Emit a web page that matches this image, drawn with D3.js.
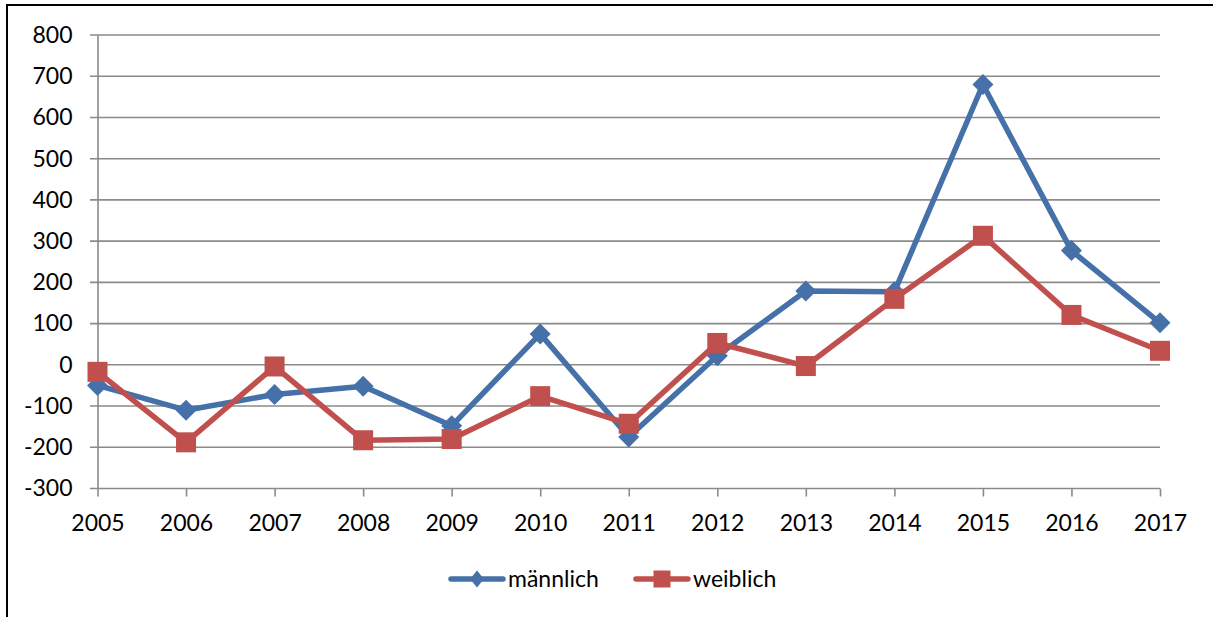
<!DOCTYPE html>
<html>
<head>
<meta charset="utf-8">
<script src="https://cdn.jsdelivr.net/npm/d3@7"></script>
<style>
  body { margin: 0; background: #fff; }
  text { font-family: Lato, "Open Sans", sans-serif; fill: #000; }
</style>
</head>
<body>
<svg id="chart" width="1213" height="617"></svg>
<script>
var years = [2005, 2006, 2007, 2008, 2009, 2010, 2011, 2012, 2013, 2014, 2015, 2016, 2017];
var maennlich = [-50, -110, -72, -52, -148, 75, -175, 22, 179, 177, 680, 277, 102];
var weiblich = [-17, -188, -4, -183, -180, -76, -143, 53, -3, 160, 313, 121, 34];
var yTicks = [-300, -200, -100, 0, 100, 200, 300, 400, 500, 600, 700, 800];
var seriesNames = ["männlich", "weiblich"];

var svg = d3.select("#chart");
var blue = "#4571a8", red = "#c0504d", grid = "#8a8a8a";
var fontSize = 23;

// outer frame (right/bottom edge run past the picture)
svg.append("rect")
    .attr("x", 7).attr("y", 5)
    .attr("width", 1230).attr("height", 650)
    .attr("fill", "none").attr("stroke", "#000").attr("stroke-width", 2);

var x = d3.scalePoint().domain(years).range([97.5, 1160]);
var y = d3.scaleLinear().domain([-300, 800]).range([488.5, 35]);

// gridlines
svg.append("g").selectAll("line")
    .data(yTicks)
    .join("line")
    .attr("x1", 90).attr("x2", 1160)
    .attr("y1", function(d) { return y(d); })
    .attr("y2", function(d) { return y(d); })
    .attr("stroke", grid).attr("stroke-width", 1.6);

// y axis, plain hyphen for negatives like the original
var yAxis = svg.append("g")
    .attr("transform", "translate(97.5,0)")
    .call(d3.axisLeft(y).tickValues(yTicks).tickSize(0).tickPadding(25)
        .tickFormat(function(d) { return String(d); }));
yAxis.select(".domain").attr("stroke", grid).attr("stroke-width", 1.6);
yAxis.selectAll("text").attr("font-size", fontSize).style("font-family", "Lato, sans-serif");

// x axis
var xAxis = svg.append("g")
    .attr("transform", "translate(0," + y(-300) + ")")
    .call(d3.axisBottom(x).tickSize(8).tickPadding(18));
xAxis.select(".domain").remove();
xAxis.selectAll("line").attr("stroke", grid).attr("stroke-width", 1.6);
xAxis.selectAll("text").attr("font-size", fontSize).style("font-family", "Lato, sans-serif");

var line = d3.line()
    .x(function(d, i) { return x(years[i]); })
    .y(function(d) { return y(d); });

function diamond(w, h) {
    return "M0," + (-h) + "L" + w + ",0L0," + h + "L" + (-w) + ",0Z";
}

// männlich
svg.append("path")
    .datum(maennlich)
    .attr("fill", "none").attr("stroke", blue).attr("stroke-width", 5.5)
    .attr("stroke-linejoin", "round")
    .attr("d", line);
svg.append("g").selectAll("path")
    .data(maennlich)
    .join("path")
    .attr("transform", function(d, i) { return "translate(" + x(years[i]) + "," + y(d) + ")"; })
    .attr("d", diamond(10.5, 10.5))
    .attr("fill", blue);

// weiblich
svg.append("path")
    .datum(weiblich)
    .attr("fill", "none").attr("stroke", red).attr("stroke-width", 5.5)
    .attr("stroke-linejoin", "round")
    .attr("d", line);
svg.append("g").selectAll("rect")
    .data(weiblich)
    .join("rect")
    .attr("x", function(d, i) { return x(years[i]) - 10; })
    .attr("y", function(d) { return y(d) - 10; })
    .attr("width", 20).attr("height", 20)
    .attr("fill", red);

// legend
var legend = svg.append("g").attr("transform", "translate(0,579)");
var lm = legend.append("g").attr("transform", "translate(449,0)");
lm.append("line").attr("x1", 2).attr("x2", 54)
    .attr("stroke", blue).attr("stroke-width", 5.5).attr("stroke-linecap", "round");
lm.append("path").attr("transform", "translate(28,0)").attr("d", diamond(7, 8.5)).attr("fill", blue);
lm.append("text").attr("x", 59).attr("dy", "0.36em").attr("font-size", fontSize).text(seriesNames[0]);

var lw = legend.append("g").attr("transform", "translate(634,0)");
lw.append("line").attr("x1", 2).attr("x2", 54)
    .attr("stroke", red).attr("stroke-width", 5.5).attr("stroke-linecap", "round");
lw.append("rect").attr("x", 19.5).attr("y", -8.5).attr("width", 17).attr("height", 17).attr("fill", red);
lw.append("text").attr("x", 59).attr("dy", "0.36em").attr("font-size", fontSize).text(seriesNames[1]);
</script>
</body>
</html>
